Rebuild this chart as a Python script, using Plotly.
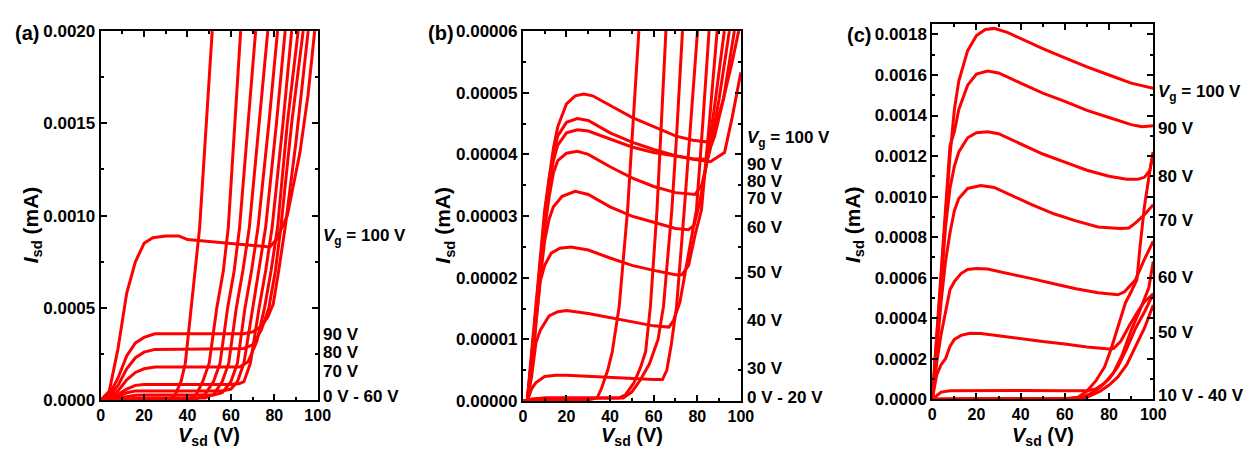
import plotly.graph_objects as go

# ---------------- Panel (a) data ----------------
a_vg = [0, 10, 20, 30, 40, 50, 60, 70, 80, 90, 100]
a_vsd = [
    [0, 10, 20, 30, 34, 37, 39, 41.5, 43.5, 45.6, 48.5, 51.4],
    [0, 10, 20, 40, 44, 47, 50, 53.5, 56.5, 58.8, 62, 64.5],
    [0, 10, 20, 44, 48, 52, 55, 58.5, 61.5, 64, 68, 71.4],
    [0, 8, 16, 20, 48, 52, 56, 59, 62.5, 65.5, 68.5, 73, 77],
    [0, 4, 8, 12, 16, 20, 52, 56, 60, 63, 66.5, 69.5, 72.5, 77.5, 81.5],
    [0, 4, 8, 12, 16, 20, 56, 60, 63, 66, 70, 73, 76, 81, 85],
    [0, 4, 8, 12, 16, 20, 60, 64, 66, 69, 73, 76, 79, 84, 88],
    [0, 4, 8, 12, 16, 20, 25, 60, 64, 68, 72, 75.5, 78.5, 81.5, 86, 91],
    [0, 4, 8, 12, 16, 20, 25, 40, 60, 66, 70, 74, 77.5, 80.5, 83, 88, 93.3],
    [0, 4, 8, 12, 16, 20, 25, 40, 60, 66, 70, 74, 77, 79.5, 82, 85, 90, 95.6],
    [0, 4, 8, 12, 16, 20, 24, 30, 36, 40, 50, 60, 70, 76, 78, 81, 86, 91.8, 95.5, 98.6],
]
a_isd = [
    [0, 0, 0, 0, 2e-5, 1e-4, 2e-4, 5e-4, 7e-4, 9.35e-4, 1.47e-3, 2e-3],
    [0, 2e-6, 2e-6, 2e-6, 3e-5, 1e-4, 2e-4, 5e-4, 7e-4, 9.35e-4, 1.5e-3, 2e-3],
    [0, 3e-6, 5e-6, 5e-6, 3e-5, 1e-4, 2e-4, 5e-4, 7e-4, 9.35e-4, 1.5e-3, 2e-3],
    [0, 5e-6, 1.1e-5, 1.2e-5, 1.2e-5, 3e-5, 1e-4, 2e-4, 5e-4, 7e-4, 9.35e-4, 1.5e-3, 2e-3],
    [0, 0, 1e-5, 2e-5, 2.7e-5, 2.8e-5, 2.8e-5, 4e-5, 1e-4, 2e-4, 5e-4, 7e-4, 9.35e-4, 1.5e-3, 2e-3],
    [0, 0, 2e-5, 4e-5, 5e-5, 5e-5, 5e-5, 6e-5, 1e-4, 2e-4, 5e-4, 7e-4, 9.35e-4, 1.5e-3, 2e-3],
    [0, 5e-6, 3e-5, 6e-5, 8e-5, 8.5e-5, 8.5e-5, 9e-5, 1e-4, 2e-4, 5e-4, 7e-4, 9.35e-4, 1.5e-3, 2e-3],
    [0, 1e-5, 5e-5, 1.1e-4, 1.5e-4, 1.7e-4, 1.8e-4, 1.8e-4, 1.8e-4, 2.1e-4, 3.2e-4, 5e-4, 7e-4, 9.35e-4, 1.5e-3, 2e-3],
    [0, 2e-5, 8e-5, 1.7e-4, 2.3e-4, 2.6e-4, 2.75e-4, 2.75e-4, 2.78e-4, 2.8e-4, 3e-4, 3.8e-4, 5e-4, 7e-4, 9.35e-4, 1.5e-3, 2e-3],
    [0, 3e-5, 1.2e-4, 2.4e-4, 3.1e-4, 3.4e-4, 3.6e-4, 3.6e-4, 3.6e-4, 3.6e-4, 3.7e-4, 4e-4, 4.5e-4, 5.2e-4, 7e-4, 9.35e-4, 1.4e-3, 2e-3],
    [0, 5e-5, 2.8e-4, 5.8e-4, 7.5e-4, 8.5e-4, 8.8e-4, 8.9e-4, 8.9e-4, 8.7e-4, 8.6e-4, 8.5e-4, 8.4e-4, 8.3e-4, 8.3e-4, 8.7e-4, 1.0e-3, 1.34e-3, 1.65e-3, 2e-3],
]

# ---------------- Panel (b) data ----------------
b_vg = [0, 10, 20, 30, 40, 50, 60, 70, 80, 90, 100]
b_vsd = [
    [0, 10, 30, 34, 36, 38.9, 41, 44.2, 48, 50.5, 53.2],
    [0, 4, 10, 30, 44, 47, 51, 54, 56.3, 58.5, 61.5, 63.5, 65.6],
    [0, 4, 10, 30, 46, 50, 54, 58, 62, 64.5, 68.3, 70.5, 73.2],
    [0, 2, 4, 6, 10, 15, 20, 30, 40, 50, 60, 64, 66, 68, 70.5, 74, 77, 80.1],
    [0, 2, 4, 6, 8, 12, 16, 20, 30, 40, 50, 60, 67, 69, 72, 76, 79.6, 82.5, 85.4],
    [0, 2, 4, 6, 8, 10, 13, 17, 22, 30, 40, 50, 60, 70, 73, 76, 79, 81.9, 85.5, 89.1],
    [0, 2, 4, 6, 8, 10, 12, 14, 18, 24, 30, 40, 50, 60, 70, 76, 78.5, 81, 84, 88, 92.4],
    [0, 2, 4, 6, 8, 10, 12, 14, 16, 20, 25, 30, 40, 50, 60, 70, 79, 82, 86, 90, 94.7],
    [0, 2, 4, 6, 8, 10, 12, 14, 16, 20, 25, 30, 40, 50, 60, 70, 78, 84, 88, 92, 97],
    [0, 2, 4, 6, 8, 10, 12, 14, 16, 20, 25, 30, 40, 50, 60, 70, 78, 86, 92.5, 96, 100],
    [0, 2, 4, 6, 8, 10, 12, 14, 16, 20, 24, 28, 32, 40, 50, 60, 70, 78, 85, 88, 92, 96, 99],
]
b_isd = [
    [0, 2e-7, 2e-7, 5e-7, 2e-6, 5e-6, 8e-6, 1.54e-5, 3.09e-5, 4.5e-5, 6e-5],
    [0, 3e-7, 5e-7, 5e-7, 5e-7, 1e-6, 3e-6, 5.5e-6, 8e-6, 1.54e-5, 3.09e-5, 4.5e-5, 6e-5],
    [0, 3e-7, 5e-7, 5e-7, 5e-7, 1.5e-6, 3.5e-6, 6e-6, 1e-5, 1.54e-5, 3.09e-5, 4.3e-5, 6e-5],
    [0, 0, 2e-6, 3e-6, 4e-6, 4.2e-6, 4.2e-6, 4e-6, 3.8e-6, 3.6e-6, 3.5e-6, 3.5e-6, 5e-6, 9e-6, 1.54e-5, 3.09e-5, 4.5e-5, 6e-5],
    [0, 0, 4e-6, 9.5e-6, 1.15e-5, 1.38e-5, 1.45e-5, 1.47e-5, 1.42e-5, 1.35e-5, 1.28e-5, 1.22e-5, 1.2e-5, 1.3e-5, 1.6e-5, 2.4e-5, 3.1e-5, 4.5e-5, 6e-5],
    [0, 0, 5e-6, 1.3e-5, 1.95e-5, 2.2e-5, 2.4e-5, 2.48e-5, 2.5e-5, 2.45e-5, 2.32e-5, 2.2e-5, 2.12e-5, 2.05e-5, 2.05e-5, 2.2e-5, 2.7e-5, 3.1e-5, 4.5e-5, 6e-5],
    [0, 0, 5e-6, 1.3e-5, 2.0e-5, 2.6e-5, 2.95e-5, 3.15e-5, 3.32e-5, 3.4e-5, 3.35e-5, 3.15e-5, 3.0e-5, 2.9e-5, 2.8e-5, 2.78e-5, 2.85e-5, 3.2e-5, 3.8e-5, 4.8e-5, 6e-5],
    [0, 0, 6e-6, 1.4e-5, 2.1e-5, 2.8e-5, 3.3e-5, 3.7e-5, 3.9e-5, 4.02e-5, 4.05e-5, 4.0e-5, 3.8e-5, 3.62e-5, 3.48e-5, 3.38e-5, 3.35e-5, 3.5e-5, 4.1e-5, 4.9e-5, 6e-5],
    [0, 0, 7e-6, 1.5e-5, 2.2e-5, 2.9e-5, 3.5e-5, 3.9e-5, 4.15e-5, 4.35e-5, 4.4e-5, 4.38e-5, 4.25e-5, 4.12e-5, 4.03e-5, 3.97e-5, 3.93e-5, 3.92e-5, 4.3e-5, 4.9e-5, 6e-5],
    [0, 0, 7e-6, 1.5e-5, 2.3e-5, 3.0e-5, 3.6e-5, 4.0e-5, 4.3e-5, 4.52e-5, 4.58e-5, 4.55e-5, 4.35e-5, 4.2e-5, 4.08e-5, 3.98e-5, 3.92e-5, 3.88e-5, 4.03e-5, 4.6e-5, 5.33e-5],
    [0, 0, 8e-6, 1.6e-5, 2.4e-5, 3.1e-5, 3.6e-5, 4.1e-5, 4.45e-5, 4.82e-5, 4.95e-5, 4.98e-5, 4.95e-5, 4.8e-5, 4.6e-5, 4.45e-5, 4.3e-5, 4.23e-5, 4.2e-5, 4.4e-5, 4.9e-5, 5.5e-5, 6e-5],
]

# ---------------- Panel (c) data ----------------
c_vg = [10, 20, 30, 40, 50, 60, 70, 80, 90, 100]
c_vsd = [
    [0, 10, 40, 60, 66, 70, 74, 78, 81, 84, 87.4, 90, 92.6, 94, 96, 98.5, 100],
    [0, 40, 62, 68, 72, 76, 80, 84, 88, 92, 96, 100],
    [0, 40, 62, 70, 76, 80, 84, 88, 92, 96, 100],
    [0, 2, 4, 8, 15, 40, 60, 70, 74, 78, 82, 86, 90, 94, 98, 100],
    [0, 2, 4, 6, 8, 10, 13, 17, 22, 30, 40, 50, 60, 70, 80, 82, 85.3, 89, 93.4, 96, 100],
    [0, 2, 4, 6, 8, 10, 13, 16, 20, 25, 35, 45, 55, 65, 75, 84, 87, 92, 96, 100],
    [0, 2, 4, 6, 8, 10, 12, 16, 22, 28, 35, 45, 55, 65, 75, 85, 89, 92, 96, 100],
    [0, 2, 4, 6, 8, 10, 12, 16, 20, 25, 30, 40, 50, 60, 70, 80, 88, 93, 96, 98.5, 100],
    [0, 2, 4, 6, 8, 10, 12, 16, 20, 25, 30, 40, 50, 60, 70, 80, 90, 95, 100],
    [0, 2, 4, 6, 8, 10, 12, 16, 20, 24, 28, 34, 40, 50, 60, 70, 80, 90, 100],
]
c_isd = [
    [0, 2e-6, 2e-6, 2e-6, 1e-5, 4e-5, 9e-5, 1.6e-4, 2.5e-4, 3.6e-4, 4.75e-4, 5.3e-4, 5.9e-4, 7.5e-4, 9.5e-4, 1.13e-3, 1.22e-3],
    [0, 2e-6, 2e-6, 1e-5, 3e-5, 6e-5, 1.0e-4, 1.6e-4, 2.5e-4, 3.5e-4, 4.3e-4, 5.2e-4],
    [0, 3e-6, 3e-6, 1e-5, 4e-5, 7e-5, 1.1e-4, 1.7e-4, 2.6e-4, 3.5e-4, 4.65e-4],
    [0, 2e-5, 3.5e-5, 4.2e-5, 4.3e-5, 4.3e-5, 4.2e-5, 4.2e-5, 5e-5, 8e-5, 1.3e-4, 2.2e-4, 3.4e-4, 4.4e-4, 5.5e-4, 6.8e-4],
    [0, 1.2e-4, 1.7e-4, 2.0e-4, 2.6e-4, 2.95e-4, 3.15e-4, 3.25e-4, 3.24e-4, 3.12e-4, 3.0e-4, 2.85e-4, 2.72e-4, 2.58e-4, 2.48e-4, 2.5e-4, 2.86e-4, 3.6e-4, 4.4e-4, 4.8e-4, 5.2e-4],
    [0, 1.8e-4, 3.2e-4, 4.3e-4, 5.4e-4, 5.8e-4, 6.2e-4, 6.4e-4, 6.45e-4, 6.42e-4, 6.2e-4, 5.95e-4, 5.7e-4, 5.45e-4, 5.25e-4, 5.15e-4, 5.3e-4, 5.9e-4, 6.9e-4, 7.8e-4],
    [0, 2.5e-4, 4.8e-4, 6.8e-4, 8.2e-4, 9.3e-4, 9.9e-4, 1.04e-3, 1.055e-3, 1.045e-3, 1.01e-3, 9.6e-4, 9.15e-4, 8.8e-4, 8.5e-4, 8.42e-4, 8.45e-4, 8.7e-4, 9.1e-4, 9.6e-4],
    [0, 3e-4, 6e-4, 8.5e-4, 1.04e-3, 1.15e-3, 1.22e-3, 1.29e-3, 1.315e-3, 1.32e-3, 1.31e-3, 1.26e-3, 1.21e-3, 1.17e-3, 1.13e-3, 1.1e-3, 1.085e-3, 1.085e-3, 1.095e-3, 1.13e-3, 1.22e-3],
    [0, 3.2e-4, 6.5e-4, 9.5e-4, 1.25e-3, 1.32e-3, 1.43e-3, 1.55e-3, 1.605e-3, 1.62e-3, 1.61e-3, 1.56e-3, 1.51e-3, 1.47e-3, 1.425e-3, 1.39e-3, 1.355e-3, 1.345e-3, 1.35e-3],
    [0, 3e-4, 6e-4, 9e-4, 1.2e-3, 1.43e-3, 1.57e-3, 1.72e-3, 1.795e-3, 1.825e-3, 1.83e-3, 1.81e-3, 1.78e-3, 1.73e-3, 1.685e-3, 1.64e-3, 1.6e-3, 1.56e-3, 1.535e-3],
]

# Right-side curve labels: (text, y-pixel from the top)
a_labels = [("<i>V</i><sub>g</sub> = 100 V", 238), ("90 V", 340), ("80 V", 358), ("70 V", 378), ("0 V - 60 V", 404)]
b_labels = [("<i>V</i><sub>g</sub> = 100 V", 136), ("90 V", 162), ("80 V", 180), ("70 V", 198),
            ("60 V", 228), ("50 V", 275), ("40 V", 325), ("30 V", 375), ("0 V - 20 V", 405)]
c_labels = [("<i>V</i><sub>g</sub> = 100 V", 88), ("90 V", 125), ("80 V", 175), ("70 V", 221),
            ("60 V", 280), ("50 V", 337), ("10 V - 40 V", 403)]

W, H = 1257, 460
FONT = "Liberation Sans, Arial, sans-serif"
RED = "#ff0000"

fig = go.Figure()

panels = [
    dict(vsd=a_vsd, isd=a_isd, vg=a_vg, xd=(98, 318), yd=(23, 408), yr=(0, 0.002), dt=0.0005, fmt=".4f",
         letter="(a)", lpos=(23, 25), ytitle_x=28, labels=a_labels, lab_x=321),
    dict(vsd=b_vsd, isd=b_isd, vg=b_vg, xd=(526, 747), yd=(23, 409), yr=(0, 0.00006), dt=0.00001, fmt=".5f",
         letter="(b)", lpos=(443, 25), ytitle_x=446, labels=b_labels, lab_x=751),
    dict(vsd=c_vsd, isd=c_isd, vg=c_vg, xd=(941, 1165), yd=(16, 407), yr=(0, 0.00185), dt=0.0002, fmt=".4f",
         letter="(c)", lpos=(867, 27), ytitle_x=861, labels=c_labels, lab_x=1168),
]

annotations = []
for i, p in enumerate(panels):
    n = "" if i == 0 else str(i + 1)
    xa, ya = "x" + n, "y" + n
    for xs, ys, vg in zip(p["vsd"], p["isd"], p["vg"]):
        fig.add_trace(go.Scatter(x=xs, y=ys, mode="lines", name=f"Vg={vg} V",
                                 line=dict(color=RED, width=3), xaxis=xa, yaxis=ya,
                                 showlegend=False, cliponaxis=True))
    axcommon = dict(showline=True, linecolor="black", linewidth=2, mirror="allticks",
                    ticks="inside", ticklen=6, tickwidth=2, tickcolor="black",
                    showgrid=False, zeroline=False)
    fig.update_layout(**{
        "xaxis" + n: dict(domain=[p["xd"][0] / W, p["xd"][1] / W], range=[0, 100], dtick=20, tick0=0,
                          anchor=ya,
                          tickfont=dict(family=FONT, size=16, color="black", weight="bold"),
                          minor=dict(ticks="inside", ticklen=3, tickwidth=2, dtick=10, tickcolor="black"),
                          **axcommon),
        "yaxis" + n: dict(domain=[1 - p["yd"][1] / H, 1 - p["yd"][0] / H], range=list(p["yr"]), dtick=p["dt"],
                          tick0=0, tickformat=p["fmt"], anchor=xa,
                          tickfont=dict(family=FONT, size=17, color="black", weight="bold"),
                          minor=dict(ticks="inside", ticklen=3, tickwidth=2, dtick=p["dt"] / 2, tickcolor="black"),
                          **axcommon),
    })
    # panel letter
    annotations.append(dict(text="<b>" + p["letter"] + "</b>", x=p["lpos"][0] / W, y=1 - p["lpos"][1] / H,
                            xref="paper", yref="paper", showarrow=False, xanchor="center", yanchor="middle",
                            font=dict(family=FONT, size=20, color="black")))
    # y title
    annotations.append(dict(text="<b><i>I</i><sub>sd</sub> (mA)</b>", x=p["ytitle_x"] / W, y=1 - 225 / H,
                            xref="paper", yref="paper", showarrow=False, textangle=-90,
                            xanchor="center", yanchor="middle",
                            font=dict(family=FONT, size=21, color="black")))
    # x title
    xc = (p["xd"][0] + p["xd"][1]) / 2
    annotations.append(dict(text="<b><i>V</i><sub>sd</sub> (V)</b>", x=xc / W, y=0,
                            xref="paper", yref="paper", showarrow=False, xanchor="center", yanchor="bottom",
                            borderpad=0, font=dict(family=FONT, size=20, color="black")))
    # curve labels
    for txt, py in p["labels"]:
        annotations.append(dict(text="<b>" + txt + "</b>", x=p["lab_x"] / W, y=1 - py / H,
                                xref="paper", yref="paper", showarrow=False, xanchor="left", yanchor="middle",
                                font=dict(family=FONT, size=17, color="black")))

fig.update_layout(width=W, height=H, margin=dict(l=0, r=0, t=0, b=0),
                  paper_bgcolor="white", plot_bgcolor="white",
                  annotations=annotations, showlegend=False,
                  font=dict(family=FONT, color="black"))

fig.write_html("out.html", config={"displayModeBar": False})
